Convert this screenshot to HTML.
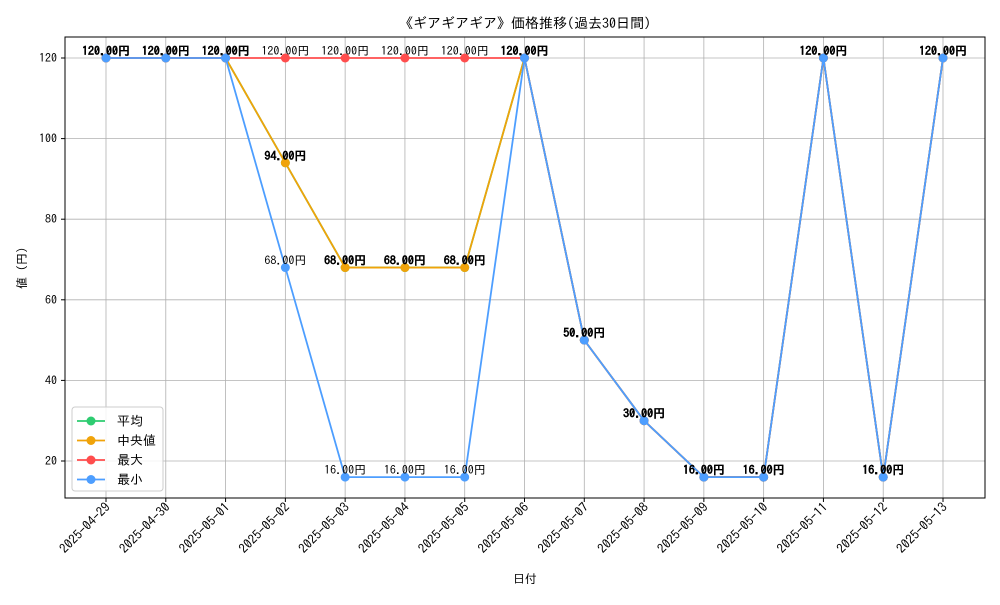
<!DOCTYPE html>
<html><head><meta charset="utf-8"><style>
body{margin:0;background:#fff}
svg text{font-family:"IPAGothic","Noto Sans CJK JP",sans-serif;fill:#000}
</style></head><body>
<svg width="1000" height="600" xmlns="http://www.w3.org/2000/svg">
<rect width="1000" height="600" fill="#fff"/>
<text x="525" y="28" font-size="14" text-anchor="middle">《ギアギアギア》価格推移(過去30日間)</text>
<g id="grid"></g>
<g id="axes"></g>
<g id="series"></g>
<g id="labels"></g>
<rect x="65" y="37" width="920" height="461" fill="none" stroke="#000" stroke-width="1"/>
<text x="525" y="583" font-size="12" text-anchor="middle">日付</text>
<text transform="translate(26,268) rotate(-90)" font-size="12" text-anchor="middle">値 (円)</text>
<g id="legend">
<rect x="72" y="407" width="91" height="84" rx="3" fill="#fff" fill-opacity="0.85" stroke="#ccc"/>
</g>
</svg>
<script>
const categories=["2025-04-29","2025-04-30","2025-05-01","2025-05-02","2025-05-03","2025-05-04","2025-05-05","2025-05-06","2025-05-07","2025-05-08","2025-05-09","2025-05-10","2025-05-11","2025-05-12","2025-05-13"];
const avgValues=[120,120,120,94,68,68,68,120,50,30,16,16,120,16,120];
const medianValues=[120,120,120,94,68,68,68,120,50,30,16,16,120,16,120];
const maxValues=[120,120,120,120,120,120,120,120,50,30,16,16,120,16,120];
const minValues=[120,120,120,68,16,16,16,120,50,30,16,16,120,16,120];
const yTicks=[20,40,60,80,100,120];
const seriesNames=["平均","中央値","最大","最小"];
const NS="http://www.w3.org/2000/svg";
const X0=106,X1=943,Y20=461,Y120=58;
const xs=i=>X0+(X1-X0)*i/(categories.length-1);
const ys=v=>Y20+(v-20)*(Y120-Y20)/100;
function mk(tag,attrs,parent){const e=document.createElementNS(NS,tag);for(const k in attrs)e.setAttribute(k,attrs[k]);document.getElementById(parent).appendChild(e);return e;}
yTicks.forEach(t=>{
 const l=mk('line',{x1:65,x2:985,y1:ys(t),y2:ys(t),stroke:'#b0b0b0','stroke-width':0.8},'grid');
 
 
 const k=mk('line',{x1:61,x2:65,y1:ys(t),y2:ys(t),stroke:'#000'},'axes');
 
 
 const tx=mk('text',{x:57,y:ys(t)+4,'font-size':12,'text-anchor':'end'},'axes');
 tx.textContent=t;
 
 
});
categories.forEach((c,i)=>{
 const l=mk('line',{x1:xs(i),x2:xs(i),y1:37,y2:498,stroke:'#b0b0b0','stroke-width':0.8},'grid');
 
 
 const k=mk('line',{x1:xs(i),x2:xs(i),y1:498,y2:502,stroke:'#000'},'axes');
 
 
 const tx=mk('text',{transform:`translate(${xs(i)+5},${508}) rotate(-45)`,'font-size':13,'text-anchor':'end'},'axes');
 tx.textContent=c;
 
 
});
const all=[[avgValues,'#2ecc71','bold'],[medianValues,'#f0a30a','bold'],[maxValues,'#ff4d4d','normal'],[minValues,'#4d9eff','normal']];
all.forEach(([vals,col,fw],si)=>{
 const p=mk('polyline',{points:vals.map((v,i)=>xs(i)+','+ys(v)).join(' '),fill:'none',stroke:col,'stroke-width':1.8},'series');
 
 
 vals.forEach((v,i)=>{
  const c=mk('circle',{cx:xs(i),cy:ys(v),r:4.5,fill:col},'series');
  
  
  const t=mk('text',{x:xs(i),y:ys(v)-3,'font-size':12,'text-anchor':'middle','font-weight':fw},'labels');
  t.textContent=v.toFixed(2)+'円';
  
  
 });
 const ly=421+si*19.5;
 const ll=mk('line',{x1:77,x2:105,y1:ly,y2:ly,stroke:col,'stroke-width':1.8},'legend');
 
 
 const lc=mk('circle',{cx:91,cy:ly,r:4.5,fill:col},'legend');
 
 
 const lt=mk('text',{x:117,y:ly+4.5,'font-size':13},'legend');
 lt.textContent=seriesNames[si];
 
 
});
</script>
</body></html>
